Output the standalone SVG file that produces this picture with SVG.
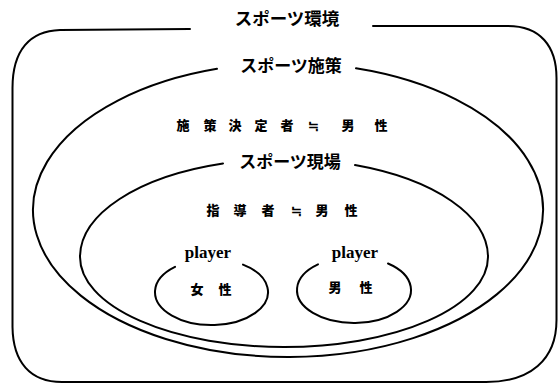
<svg xmlns="http://www.w3.org/2000/svg" width="558" height="384" viewBox="0 0 558 384">
<style>
.ln{fill:none;stroke:#000;stroke-width:2;stroke-linecap:round}
.jp{font-family:"Noto Sans CJK JP","Noto Sans CJK SC",sans-serif;font-weight:bold;fill:#000;text-anchor:middle}
.ttl{font-size:17px}
.lbl{font-size:13px;font-weight:900}
.en{font-family:"Liberation Serif",serif;font-weight:bold;font-size:17px;fill:#000;text-anchor:middle}
</style>
<rect width="558" height="384" fill="#fff"/>
<g id="sports-environment">
<path class="ln" d="M190,29 L60,30 C30,31 12.5,50 12.5,88 L12.5,327 C13,362 30,382 62,382 L486,382 C530,382 556.5,360 556.5,320 L556.5,78 C556.5,46 540,26 508,26 L373,26"/>
<text class="jp ttl" x="287" y="24.5" style="font-size:17.5px">スポーツ環境</text>
</g>
<g id="sports-policy">
<path class="ln" d="M356,68.3 A255 147 0 1 1 217,68.8"/>
<text class="jp ttl" x="291" y="72">スポーツ施策</text>
<text class="jp lbl" x="183 196 210 222 235 248 261 274 287 300 313 330 348 364 381" y="130">施 策 決 定 者 ≒ 男 性</text>
</g>
<g id="sports-field">
<path class="ln" d="M355,165.1 A204 98 0 0 1 488,257 A204 90 0 0 1 80,257 A204 98 0 0 1 223,163.5"/>
<text class="jp ttl" x="290" y="168">スポーツ現場</text>
<text class="jp lbl" x="213 226 240 254 268 282 296 309 322 336 351" y="215">指 導 者 ≒ 男 性</text>
</g>
<g id="player-female">
<path class="ln" d="M243,264.6 A56.5 33 0 1 1 175,266.8"/>
<text class="en" x="208" y="258">player</text>
<text class="jp lbl" x="197 211 225" y="294">女 性</text>
</g>
<g id="player-male">
<path class="ln" d="M388,263.5 A57 33 0 1 1 318,264.4"/>
<text class="en" x="355" y="258">player</text>
<text class="jp lbl" x="335 350 366" y="292">男 性</text>
</g>
</svg>
